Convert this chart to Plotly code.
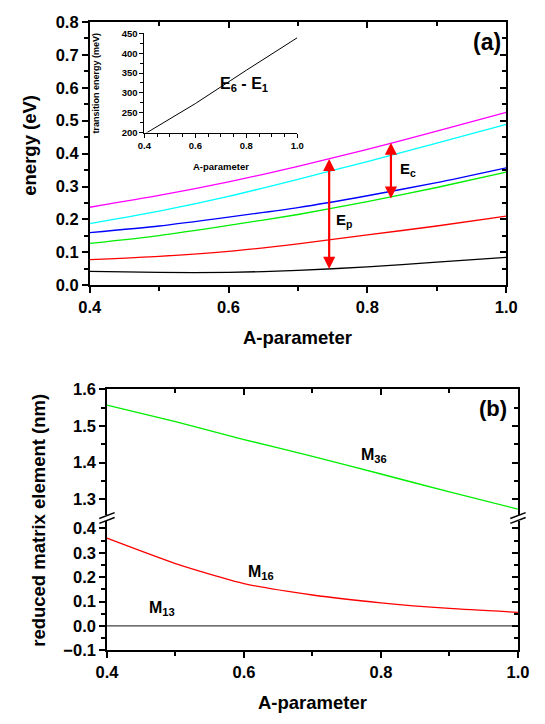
import plotly.graph_objects as go

W, H = 545, 724

# ---------------- data ----------------
a_param = [0.4, 0.5, 0.6, 0.7, 0.8, 0.9, 1.0]
e_black = [0.042, 0.039, 0.039, 0.045, 0.056, 0.070, 0.085]
e_red = [0.078, 0.088, 0.103, 0.126, 0.153, 0.180, 0.210]
e_green = [0.127, 0.151, 0.182, 0.215, 0.254, 0.297, 0.344]
e_blue = [0.160, 0.180, 0.207, 0.236, 0.272, 0.312, 0.357]
e_cyan = [0.187, 0.225, 0.270, 0.322, 0.376, 0.432, 0.489]
e_magenta = [0.237, 0.273, 0.314, 0.361, 0.413, 0.468, 0.525]

inset_a = [0.4, 0.6, 0.8, 1.0]
inset_trans = [196, 273, 357, 439]

ep_x, ep_lo, ep_hi = 0.745, 0.045, 0.384
ec_x, ec_lo, ec_hi = 0.834, 0.259, 0.433

m36 = [1.557, 1.512, 1.463, 1.417, 1.369, 1.320, 1.273]
m16 = [0.360, 0.256, 0.174, 0.127, 0.095, 0.072, 0.056]
m13 = [0.0, 0.0, 0.0, 0.0, 0.0, 0.0, 0.0]

# ---------------- helpers ----------------
def px(x):
    return x / W

def py(y):
    return 1 - y / H

FONT = "Liberation Sans, Arial, sans-serif"
BLACK = "black"

fig = go.Figure()

def line(x, y, color, xa, ya, width=1.3):
    fig.add_trace(go.Scatter(x=x, y=y, mode="lines", line=dict(color=color, width=width, shape="spline", smoothing=0.6),
                             xaxis=xa, yaxis=ya, showlegend=False, hoverinfo="skip"))

def dummy(xa, ya):
    fig.add_trace(go.Scatter(x=[None], y=[None], xaxis=xa, yaxis=ya, showlegend=False, hoverinfo="skip"))

# top panel
for ser, col in [(e_black, "black"), (e_red, "#ff0000"), (e_green, "#00ee00"), (e_blue, "#0000ff"),
                 (e_cyan, "#00ffff"), (e_magenta, "#ff00ff")]:
    line(a_param, ser, col, "x", "y")
dummy("x2", "y2")
# inset
fig.add_trace(go.Scatter(x=inset_a, y=inset_trans, mode="lines", line=dict(color="black", width=1),
                         xaxis="x3", yaxis="y3", showlegend=False, hoverinfo="skip"))
# bottom panel
line(a_param, m36, "#00ee00", "x4", "y5")
line(a_param, m16, "#ff0000", "x4", "y4")
line(a_param, m13, "#404040", "x4", "y4")
dummy("x5", "y5")
dummy("x4", "y6")
dummy("x4", "y7")

tickfont = dict(family=FONT, size=16.5, color=BLACK, weight=700)
small_tf = dict(family=FONT, size=9.5, color=BLACK, weight=700)

def xax(domain, rng, anchor, dtick, mdtick, side="bottom", ticks="outside", labels=True, overlay=None, tf=tickfont, tl=6, mtl=4, lw=1.5):
    d = dict(domain=domain, range=rng, anchor=anchor, side=side, showline=True, linecolor=BLACK, linewidth=lw,
             ticks=ticks, ticklen=tl, tickwidth=lw, tickcolor=BLACK, dtick=dtick, tick0=0,
             showticklabels=labels, tickfont=tf, tickformat=".1f", tickprefix="<b>", ticksuffix="</b>",
             showgrid=False, zeroline=False,
             minor=dict(dtick=mdtick, tick0=0, ticks=ticks, ticklen=mtl, tickwidth=lw, tickcolor=BLACK, showgrid=False))
    if overlay:
        d["overlaying"] = overlay
        d.pop("domain")
    return d

def yax(domain, rng, anchor, dtick, mdtick, side="left", ticks="outside", labels=True, overlay=None, tf=tickfont, fmt=".1f", tl=6, mtl=4, lw=1.5):
    d = dict(domain=domain, range=rng, anchor=anchor, side=side, showline=True, linecolor=BLACK, linewidth=lw,
             ticks=ticks, ticklen=tl, tickwidth=lw, tickcolor=BLACK, dtick=dtick, tick0=0,
             showticklabels=labels, tickfont=tf, tickformat=fmt, tickprefix="<b>", ticksuffix="</b>",
             showgrid=False, zeroline=False,
             minor=dict(dtick=mdtick, tick0=0, ticks=ticks, ticklen=mtl, tickwidth=lw, tickcolor=BLACK, showgrid=False))
    if overlay:
        d["overlaying"] = overlay
        d.pop("domain")
    return d

# domains
top_x = [px(82), px(516)]
top_y = [py(283.3), py(13.3)]
ins_x = [px(139), px(298.3)]
ins_y = [py(126.7), py(25)]
bot_x = [px(100), px(528.3)]
brk = 521
low_y = [py(657.7), py(brk)]
up_y = [py(brk), py(390)]
low_rng = [-0.1, -0.1 + (657.7 - brk) / 250.0]
up_rng = [1.6 - (brk - 390) / 376.0, 1.6]

fig.update_layout(
    width=W, height=H, margin=dict(l=0, r=0, t=0, b=0),
    paper_bgcolor="white", plot_bgcolor="rgba(0,0,0,0)",
    font=dict(family=FONT, color=BLACK),
    xaxis=xax(top_x, [0.4, 1.0], "y", 0.2, 0.1),
    yaxis=yax(top_y, [0, 0.8], "x", 0.1, 0.05),
    xaxis2=xax(None, [0.4, 1.0], "y", 0.2, 0.1, side="top", ticks="inside", labels=False, overlay="x"),
    yaxis2=yax(None, [0, 0.8], "x", 0.1, 0.05, side="right", ticks="inside", labels=False, overlay="y"),
    xaxis3=xax(ins_x, [0.4, 1.0], "y3", 0.2, 0.05, tf=small_tf, tl=4, mtl=3, lw=1),
    yaxis3=yax(ins_y, [200, 450], "x3", 50, 25, tf=small_tf, fmt="d", tl=4, mtl=3, lw=1),
    xaxis4=xax(bot_x, [0.4, 1.0], "y4", 0.2, 0.1),
    yaxis4=yax(low_y, low_rng, "x4", 0.1, 0.05),
    yaxis5=yax(up_y, up_rng, "x4", 0.1, 0.05),
    xaxis5=xax(None, [0.4, 1.0], "y5", 0.2, 0.1, side="top", ticks="inside", labels=False, overlay="x4"),
    yaxis6=yax(None, low_rng, "x4", 0.1, 0.05, side="right", ticks="inside", labels=False, overlay="y4"),
    yaxis7=yax(None, up_rng, "x4", 0.1, 0.05, side="right", ticks="inside", labels=False, overlay="y5"),
)

ann = []
def txt(x, y, s, size, xref="paper", yref="paper", xanchor="center", yanchor="middle", angle=0):
    ann.append(dict(x=x, y=y, xref=xref, yref=yref, text=s, showarrow=False, xanchor=xanchor, yanchor=yanchor,
                    textangle=angle, font=dict(family=FONT, size=size, color=BLACK, weight="bold")))

# titles
txt(px(19), py(140), "energy (eV)", 18.5, angle=-90)
txt(px(299), py(337), "A-parameter", 18.5)
txt(px(29), py(524), "reduced matrix element (nm)", 18.5, angle=-90)
txt(px(314), py(711), "A-parameter", 18.5)
txt(px(496), py(34), "(a)", 23)
txt(px(502), py(410), "(b)", 22)
# inset titles
txt(px(89), py(76), "transition energy (meV)", 9, angle=-90)
txt(px(219), py(162), "A-parameter", 9.5)
txt(0.79, 320, "E<sub>6</sub> - E<sub>1</sub>", 16, xref="x3", yref="y3")
# labels
txt(0.752, 0.196, "E<sub>p</sub>", 15, xref="x", yref="y", xanchor="left")
txt(0.844, 0.352, "E<sub>c</sub>", 15, xref="x", yref="y", xanchor="left")
txt(0.79, 1.42, "M<sub>36</sub>", 16, xref="x4", yref="y5")
txt(0.625, 0.22, "M<sub>16</sub>", 16, xref="x4", yref="y4")
txt(0.48, 0.072, "M<sub>13</sub>", 16, xref="x4", yref="y4")

# arrows
for xx, lo, hi in [(ep_x, ep_lo, ep_hi), (ec_x, ec_lo, ec_hi)]:
    ann.append(dict(x=xx, y=hi, ax=xx, ay=lo, xref="x", yref="y", axref="x", ayref="y", text="",
                    showarrow=True, arrowhead=2, startarrowhead=2, arrowside="end+start", arrowsize=1.1,
                    startarrowsize=1.1, arrowwidth=2.2, arrowcolor="#ff0000", standoff=0, startstandoff=0))
fig.update_layout(annotations=ann)

# axis break marks
shapes = []
for xc in [100, 528.3]:
    shapes.append(dict(type="rect", xref="paper", yref="paper", x0=px(xc - 3), x1=px(xc + 3),
                       y0=py(525), y1=py(519), fillcolor="white", line=dict(width=0)))
    for dy in [-2.5, 2.5]:
        shapes.append(dict(type="line", xref="paper", yref="paper", x0=px(xc - 8), y0=py(525 + dy),
                           x1=px(xc + 8), y1=py(519 + dy), line=dict(color="black", width=1.5)))
fig.update_layout(shapes=shapes)

fig.write_html("out.html")
